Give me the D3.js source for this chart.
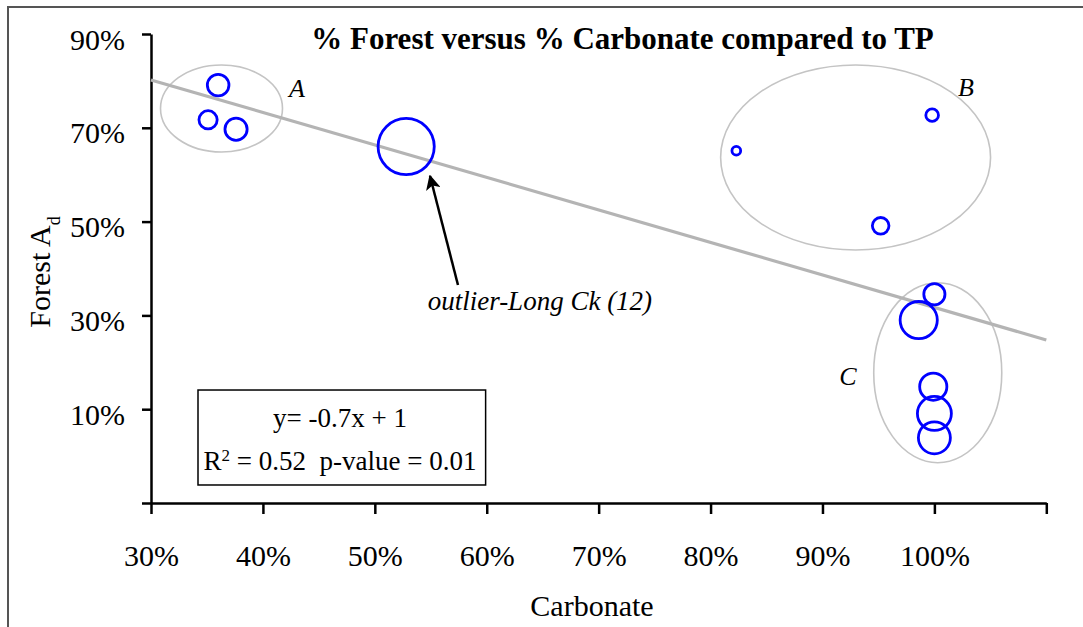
<!DOCTYPE html>
<html>
<head>
<meta charset="utf-8">
<script src="https://cdn.jsdelivr.net/npm/d3@7"></script>
<style>
  body { margin: 0; background: #fff; }
  svg { display: block; }
  text { font-family: "Liberation Serif", "Times New Roman", serif; fill: #000; }
</style>
</head>
<body>
<svg id="chart" width="1083" height="627"></svg>
<script>
// ---- data: one bubble per catchment (x = % carbonate, y = % forest, size = TP) ----
const carbonate = [0.360, 0.351, 0.376, 0.528, 0.823, 0.998, 0.952, 1.000, 0.986, 0.999, 1.000, 1.000];
const forest    = [0.791, 0.717, 0.697, 0.660, 0.651, 0.727, 0.491, 0.345, 0.290, 0.148, 0.091, 0.039];
const totalP    = [11.7, 8.3, 12.3, 79.0, 1.9, 4.0, 6.9, 11.2, 34.6, 18.5, 28.9, 25.6];

// axis ticks
const xTicks = [0.3, 0.4, 0.5, 0.6, 0.7, 0.8, 0.9, 1.0, 1.1];
const yTicks = [-0.1, 0.1, 0.3, 0.5, 0.7, 0.9];

// linear fit of forest on carbonate
const fitCoef  = [-0.693, 1.01];   // slope, intercept
const fitStats = [0.52, 0.01];     // R², p-value

// cluster outlines: name, centre (x, y) and half-widths in data units
const groupNames = ["A", "B", "C"];
const groupCx = [0.363, 0.9296, 1.003];
const groupCy = [0.7412, 0.6367, 0.1778];
const groupRx = [0.0545, 0.1206, 0.0572];
const groupRy = [0.0928, 0.1972, 0.1919];
const groupLabelX = [0.4304, 1.0281, 0.9227];
const groupLabelY = [0.7657, 0.7678, 0.1516];

// ---- layout ----
const svg = d3.select("#chart");
const x = d3.scaleLinear().domain([0.3, 1.1]).range([151, 1046.3]);
const y = d3.scaleLinear().domain([-0.1, 0.9]).range([503, 34]);
const r = d3.scaleSqrt().domain([0, d3.max(totalP)]).range([0, 28.1]);
const pct = d3.format(".0%");
const hyphen = s => s.replace("\u2212", "-");

// outer frame
svg.append("path")
  .attr("d", "M8,627 V7 H1083")
  .attr("fill", "none").attr("stroke", "#555").attr("stroke-width", 2);

// title
svg.append("text")
  .attr("x", 622.5).attr("y", 49)
  .attr("text-anchor", "middle")
  .style("font-weight", "bold").style("font-size", "31px")
  .text("% Forest versus % Carbonate compared to TP");

// axes
const yAxis = svg.append("g")
  .attr("transform", `translate(${x.range()[0]},0)`)
  .call(d3.axisLeft(y).tickValues(yTicks).tickSize(9).tickSizeOuter(0).tickPadding(17)
    .tickFormat(d => d < 0 ? "" : pct(d)));
yAxis.selectAll("text").attr("dy", "0.5em").style("font-size", "30px");

const xAxis = svg.append("g")
  .attr("transform", `translate(0,${y.range()[0]})`)
  .call(d3.axisBottom(x).tickValues(xTicks).tickSize(11).tickSizeOuter(0)
    .tickFormat(d => d > 1.0001 ? "" : pct(d)));
xAxis.selectAll("text").attr("y", 63).attr("dy", 0).style("font-size", "30px");

[yAxis, xAxis].forEach(g => {
  g.attr("font-family", null);
  g.select(".domain").attr("stroke", "#000").attr("stroke-width", 2.5);
  g.selectAll(".tick line").attr("stroke", "#000").attr("stroke-width", 2.5);
  g.selectAll("text").style("font-family", "'Liberation Serif','Times New Roman',serif").attr("fill", "#000");
});

// axis titles
svg.append("text")
  .attr("x", 592).attr("y", 616)
  .attr("text-anchor", "middle").style("font-size", "30px")
  .text("Carbonate");

const yTitle = svg.append("text")
  .attr("transform", "translate(50,272) rotate(-90)")
  .attr("text-anchor", "middle").style("font-size", "30px");
yTitle.append("tspan").text("Forest A");
yTitle.append("tspan").attr("baseline-shift", "sub").style("font-size", "18px").text("d");

// cluster outlines
svg.append("g").selectAll("ellipse")
  .data(groupNames)
  .join("ellipse")
  .attr("cx", (d, i) => x(groupCx[i]))
  .attr("cy", (d, i) => y(groupCy[i]))
  .attr("rx", (d, i) => x(groupCx[i] + groupRx[i]) - x(groupCx[i]))
  .attr("ry", (d, i) => y(groupCy[i]) - y(groupCy[i] + groupRy[i]))
  .attr("fill", "none").attr("stroke", "#c4c4c4").attr("stroke-width", 1.6);

svg.append("g").selectAll("text")
  .data(groupNames)
  .join("text")
  .attr("x", (d, i) => x(groupLabelX[i]))
  .attr("y", (d, i) => y(groupLabelY[i]))
  .attr("text-anchor", "middle")
  .style("font-style", "italic").style("font-size", "26px")
  .text(d => d);

// trend line
const fit = v => fitCoef[0] * v + fitCoef[1];
svg.append("path")
  .datum(x.domain())
  .attr("d", d3.line().x(v => x(v)).y(v => y(fit(v))))
  .attr("fill", "none").attr("stroke", "#b4b4b4").attr("stroke-width", 3.2);

// regression summary box
const box = svg.append("g");
box.append("rect")
  .attr("x", x(0.342)).attr("y", y(0.1409))
  .attr("width", x(0.599) - x(0.342)).attr("height", y(-0.0616) - y(0.1409))
  .attr("fill", "#fff").attr("stroke", "#000").attr("stroke-width", 1.5);
const fmtSlope = d3.format(".1f"), fmtInt = d3.format(".0f"), fmtStat = d3.format(".2f");
box.append("text")
  .attr("x", x(0.4689)).attr("y", y(0.062))
  .attr("text-anchor", "middle").style("font-size", "27px").style("white-space", "pre")
  .text(`y= ${hyphen(fmtSlope(fitCoef[0]))}x + ${fmtInt(fitCoef[1])}`);
const statLine = box.append("text")
  .attr("x", x(0.4689)).attr("y", y(-0.0296))
  .attr("text-anchor", "middle").style("font-size", "27px").style("white-space", "pre");
statLine.append("tspan").text("R");
statLine.append("tspan").attr("baseline-shift", "super").style("font-size", "17px").text("2");
statLine.append("tspan").text(` = ${fmtStat(fitStats[0])}  p-value = ${fmtStat(fitStats[1])}`);

// outlier annotation
svg.append("defs").append("marker")
  .attr("id", "arrowHead")
  .attr("viewBox", "0 0 10 10")
  .attr("refX", 9).attr("refY", 5)
  .attr("markerUnits", "userSpaceOnUse")
  .attr("markerWidth", 15).attr("markerHeight", 15)
  .attr("orient", "auto")
  .append("path").attr("d", "M0,0 L10,5 L0,10 L2.5,5 Z").attr("fill", "#000");

svg.append("line")
  .attr("x1", x(0.5743)).attr("y1", y(0.3648))
  .attr("x2", x(0.5493)).attr("y2", y(0.5972))
  .attr("stroke", "#000").attr("stroke-width", 2.5)
  .attr("marker-end", "url(#arrowHead)");

svg.append("text")
  .attr("x", x(0.6475)).attr("y", y(0.3115))
  .attr("text-anchor", "middle")
  .style("font-style", "italic").style("font-size", "27px")
  .text("outlier-Long Ck (12)");

// bubbles
svg.append("g").selectAll("circle")
  .data(carbonate)
  .join("circle")
  .attr("cx", d => x(d))
  .attr("cy", (d, i) => y(forest[i]))
  .attr("r", (d, i) => r(totalP[i]))
  .attr("fill", "none").attr("stroke", "#0000ff").attr("stroke-width", 2.8);
</script>
</body>
</html>
